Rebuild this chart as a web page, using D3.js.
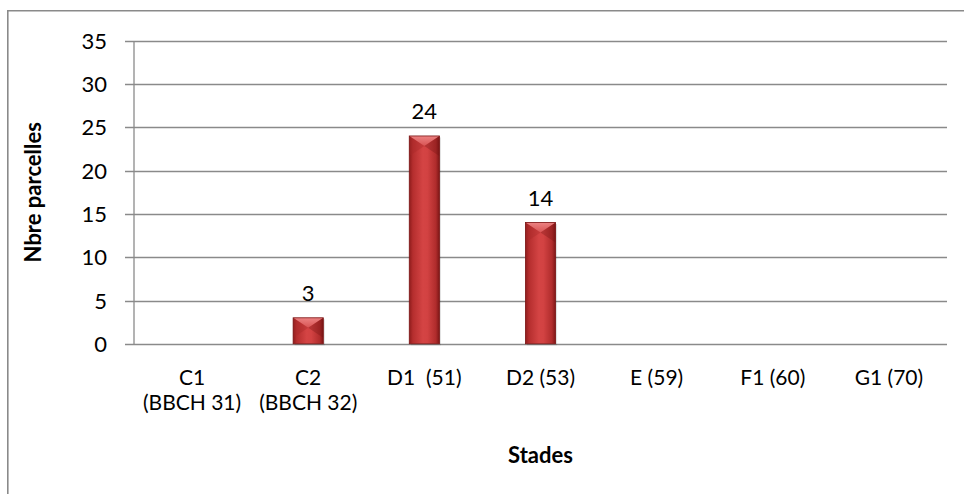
<!DOCTYPE html>
<html><head><meta charset="utf-8">
<script src="https://cdn.jsdelivr.net/npm/d3@7"></script>
<style>body{margin:0;background:#fff}svg{display:block}text{font-family:Lato,"Open Sans",sans-serif;fill:#000}</style>
</head><body>
<svg id="c" width="964" height="494"></svg>
<script>
const categories = [["C1","(BBCH 31)"],["C2","(BBCH 32)"],["D1  (51)"],["D2 (53)"],["E (59)"],["F1 (60)"],["G1 (70)"]];
const values = [0, 3, 24, 14, 0, 0, 0];
const yTicks = [0, 5, 10, 15, 20, 25, 30, 35];
const yTitle = "Nbre parcelles";
const xTitle = "Stades";

const svg = d3.select("#c");
const m = {l:134, r:947, t:40.7, b:343.8};
const x = d3.scaleBand().domain(d3.range(categories.length)).range([m.l, m.r]).paddingInner(0.74).paddingOuter(0.37);
const band = d3.scaleBand().domain(d3.range(categories.length)).range([m.l, m.r]);
const y = d3.scaleLinear().domain([0,35]).range([m.b, m.t]);
const fs = "22px";

// outer border
svg.append("path").attr("d","M7.8,494 V10.8 H964").attr("fill","none").attr("stroke","#8a8a8a").attr("stroke-width",1.6);

const defs = svg.append("defs");
const g = defs.append("linearGradient").attr("id","bg").attr("x1","0").attr("x2","1").attr("y1","0").attr("y2","0");
[[0,"#8e1c1c"],[0.12,"#b52e2e"],[0.45,"#d44444"],[0.6,"#d24242"],[0.88,"#b02c2c"],[1,"#7d1616"]].forEach(([o,c])=>g.append("stop").attr("offset",o).attr("stop-color",c));
const gt = defs.append("linearGradient").attr("id","tg").attr("x1","0").attr("x2","0").attr("y1","0").attr("y2","1");
[[0,"#f08a8a"],[1,"#d85555"]].forEach(([o,c])=>gt.append("stop").attr("offset",o).attr("stop-color",c));

// gridlines + ticks
yTicks.forEach(t=>{
  const yy = Math.round(y(t))+0.5;
  svg.append("line").attr("x1",125).attr("x2",m.r).attr("y1",yy).attr("y2",yy).attr("stroke","#8a8a8a").attr("stroke-width",1.3);
  svg.append("text").attr("x",107).attr("y",yy).attr("dy","0.36em").attr("text-anchor","end").style("font-size",fs).text(t);
});
svg.append("line").attr("x1",m.l).attr("x2",m.l).attr("y1",Math.round(m.t)+0.5).attr("y2",Math.round(m.b)+0.5).attr("stroke","#8a8a8a").attr("stroke-width",1.3);

// bars
values.forEach((v,i)=>{
  if(v<=0) return;
  const x0 = x(i), w = x.bandwidth(), y0 = y(v), h = y(0)-y(v);
  const gg = svg.append("g");
  gg.append("rect").attr("x",x0+1.5).attr("y",y0+1.5).attr("width",w).attr("height",h).attr("fill","#000").attr("opacity",0.12);
  gg.append("rect").attr("x",x0).attr("y",y0).attr("width",w).attr("height",h).attr("fill","url(#bg)");
  const bv = Math.min(w*0.3, h*0.5);
  gg.append("path").attr("d",`M${x0},${y0} H${x0+w} L${x0+w/2},${y0+bv*1.1} Z`).attr("fill","url(#tg)").attr("opacity",0.9);
  gg.append("path").attr("d",`M${x0},${y0} L${x0+w/2},${y0+bv*1.1} L${x0},${y0+bv*2.2} Z`).attr("fill","#a52828").attr("opacity",0.35);
  gg.append("path").attr("d",`M${x0+w},${y0} L${x0+w/2},${y0+bv*1.1} L${x0+w},${y0+bv*2.2} Z`).attr("fill","#6e1010").attr("opacity",0.3);
  gg.append("rect").attr("x",x0).attr("y",y0).attr("width",w).attr("height",h).attr("fill","none").attr("stroke","#7a1515").attr("stroke-width",0.8);
  svg.append("text").attr("x",x0+w/2).attr("y",y0-17).attr("text-anchor","middle").style("font-size",fs).text(v);
});

// category labels
categories.forEach((c,i)=>{
  const cx = band(i)+band.bandwidth()/2;
  c.forEach((line,j)=>{
    svg.append("text").attr("x",cx).attr("y",385+j*25).attr("text-anchor","middle").style("font-size","21px").style("white-space","pre").attr("xml:space","preserve").text(line);
  });
});

svg.append("text").attr("x",(m.l+m.r)/2).attr("y",463).attr("text-anchor","middle").style("font-size",fs).style("font-weight","bold").text(xTitle);
svg.append("text").attr("transform",`translate(41,${(m.t+m.b)/2}) rotate(-90)`).attr("text-anchor","middle").style("font-size",fs).style("font-weight","bold").text(yTitle);
</script>
</body></html>
